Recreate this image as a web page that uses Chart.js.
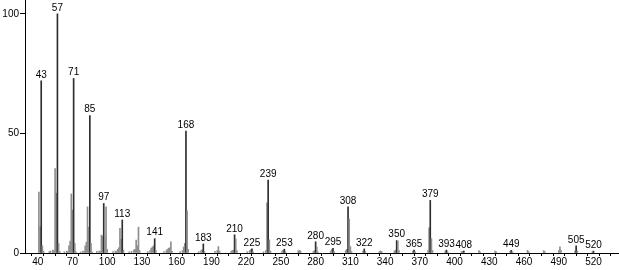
<!DOCTYPE html>
<html>
<head>
<meta charset="utf-8">
<script src="https://cdn.jsdelivr.net/npm/chart.js@4/dist/chart.umd.min.js"></script>
<style>
  html, body { margin: 0; padding: 0; background: #fff; }
  #wrap { width: 619px; height: 270px; }
</style>
</head>
<body>
<div id="wrap"><canvas id="spectrum"></canvas></div>
<script>
// m/z values and relative intensities (%)
const mzValues = [
  41, 42, 43, 44, 45, 50, 51, 53, 54, 55, 56, 57, 58, 59, 63, 65, 66, 67, 68, 69, 70, 71, 72, 73,
  77, 79, 80, 81, 82, 83, 84, 85, 86, 87, 91, 93, 94, 95, 96, 97, 98, 99, 100,
  105, 107, 108, 109, 110, 111, 112, 113, 114, 119, 121, 123, 124, 125, 126, 127, 128,
  135, 137, 138, 139, 140, 141, 142, 149, 151, 152, 153, 154, 155, 156,
  163, 165, 166, 167, 168, 169, 170, 179, 181, 182, 183, 184, 193, 195, 196, 197,
  207, 208, 209, 210, 211, 212, 221, 223, 224, 225, 226, 235, 237, 238, 239, 240, 241,
  251, 252, 253, 254, 265, 266, 267, 278, 279, 280, 281, 282, 293, 294, 295, 296,
  306, 307, 308, 309, 310, 311, 321, 322, 323, 335, 336, 337, 348, 349, 350, 351, 352,
  364, 365, 366, 377, 378, 379, 380, 381, 392, 393, 394, 406, 407, 408, 421, 422, 435, 436,
  448, 449, 450, 463, 464, 477, 478, 490, 491, 492, 504, 505, 506, 519, 520
];
const intensities = [
  25.5, 11, 72, 3, 0.8, 0.6, 0.8, 1.2, 1.0, 35.3, 25, 100, 4, 0.6, 0.5, 0.8, 0.5, 3, 5, 24.7, 18, 73, 4, 0.6,
  0.5, 0.8, 0.6, 3, 4.5, 19.3, 10.8, 57.5, 4, 0.5, 0.7, 0.8, 0.6, 7.5, 7, 20.7, 7, 19.3, 1.5,
  0.6, 0.8, 0.6, 1.5, 2.2, 10.3, 5.8, 13.8, 1.2, 0.5, 0.7, 1.2, 1.5, 5.4, 3, 10.8, 1,
  0.6, 1, 2, 2.5, 3, 6, 1, 0.6, 1, 1.5, 2, 2.2, 4.7, 0.7,
  0.6, 1, 2.5, 4, 51, 17.6, 1.5, 0.6, 1, 1.3, 3.8, 0.6, 0.7, 1, 2.7, 0.8,
  0.7, 1, 1.2, 7.6, 5.9, 1, 0.6, 1, 1.4, 1.7, 0.5, 0.5, 1, 21, 30.5, 5.5, 0.8,
  0.8, 1.2, 1.6, 0.5, 0.9, 1.1, 0.8, 0.6, 1, 4.7, 2.5, 0.5, 0.8, 1.5, 2, 0.6,
  1, 1.5, 19.3, 14.2, 2.7, 0.6, 0.8, 1.7, 0.6, 0.6, 0.9, 0.6, 0.8, 1.2, 5.2, 5, 1,
  0.8, 1.2, 0.5, 1, 10.5, 22, 6, 1, 0.8, 1.2, 0.5, 0.6, 0.8, 0.8, 1, 0.5, 0.8, 0.5,
  0.7, 1.1, 0.5, 1.1, 0.5, 1, 0.5, 1, 2.6, 1, 0.8, 3, 0.8, 0.6, 0.8
];
// peaks that carry an m/z label
const labelledPeaks = [43, 57, 71, 85, 97, 113, 141, 168, 183, 210, 225, 239, 253, 280, 295, 308, 322, 350, 365, 379, 393, 408, 449, 505, 520];
// axis ticks
const xMajorTicks = [40, 70, 100, 130, 160, 190, 220, 250, 280, 310, 340, 370, 400, 430, 460, 490, 520];
const xMinorTicks = [30, 40, 50, 60, 70, 80, 90, 100, 110, 120, 130, 140, 150, 160, 170, 180, 190, 200, 210, 220, 230, 240, 250, 260, 270, 280, 290, 300, 310, 320, 330, 340, 350, 360, 370, 380, 390, 400, 410, 420, 430, 440, 450, 460, 470, 480, 490, 500, 510, 520, 530, 540];
const yTicks = [0, 50, 100];

const FONT = { family: '"Liberation Sans", sans-serif', size: 10 };

const points = mzValues.map((mz, i) => ({ x: mz, y: intensities[i] }));
const barColors = mzValues.map((mz) => labelledPeaks.includes(mz) ? '#2e2e2e' : '#8e8e8e');

// draw the m/z numbers above the labelled peaks
const peakLabels = {
  id: 'peakLabels',
  afterDatasetsDraw(chart) {
    const ctx = chart.ctx;
    const xs = chart.scales.x;
    const ys = chart.scales.y;
    ctx.save();
    ctx.fillStyle = '#000';
    ctx.font = `${FONT.size}px ${FONT.family}`;
    ctx.textAlign = 'center';
    ctx.textBaseline = 'bottom';
    labelledPeaks.forEach((mz) => {
      const i = mzValues.indexOf(mz);
      if (i < 0) return;
      const px = xs.getPixelForValue(mz);
      const py = ys.getPixelForValue(intensities[i]);
      ctx.fillText(String(mz), px, py - 1);
    });
    ctx.restore();
  }
};

new Chart(document.getElementById('spectrum'), {
  type: 'bar',
  data: {
    datasets: [{
      data: points,
      backgroundColor: barColors,
      borderWidth: 0,
      barThickness: 1
    }]
  },
  options: {
    responsive: true,
    maintainAspectRatio: false,
    animation: false,
    layout: { padding: 0 },
    plugins: { legend: { display: false }, tooltip: { enabled: false } },
    scales: {
      x: {
        type: 'linear',
        offset: false,
        min: 29,
        max: 542,
        afterBuildTicks: (scale) => { scale.ticks = xMinorTicks.map((v) => ({ value: v })); },
        afterFit: (scale) => { scale.height = 17; scale.paddingLeft = 0; scale.paddingRight = 0; },
        ticks: {
          autoSkip: false,
          maxRotation: 0,
          padding: 0,
          color: '#000',
          font: FONT,
          callback: (v) => xMajorTicks.includes(v) ? String(v) : ''
        },
        grid: { drawOnChartArea: false, drawTicks: true, tickLength: 3, color: '#000' },
        border: { display: true, color: '#000', width: 1 }
      },
      y: {
        min: 0,
        max: 105.8,
        afterBuildTicks: (scale) => { scale.ticks = yTicks.map((v) => ({ value: v })); },
        afterFit: (scale) => { scale.width = 25; scale.paddingTop = 0; scale.paddingBottom = 0; },
        ticks: { padding: 1, color: '#000', font: FONT },
        grid: { drawOnChartArea: false, drawTicks: true, tickLength: 5, color: '#000' },
        border: { display: true, color: '#000', width: 1 }
      }
    }
  },
  plugins: [peakLabels]
});
</script>
</body>
</html>
